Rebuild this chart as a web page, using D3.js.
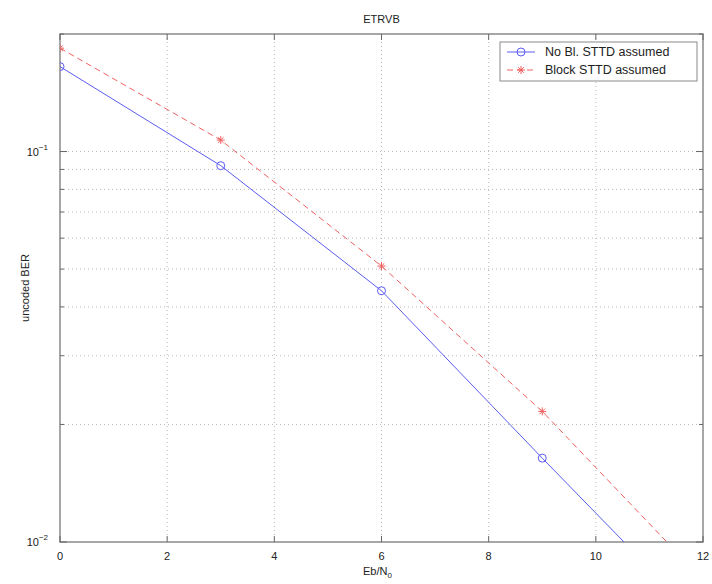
<!DOCTYPE html>
<html>
<head>
<meta charset="utf-8">
<script src="https://cdn.jsdelivr.net/npm/d3@7"></script>
<style>
  body { margin: 0; background: #fff; }
  svg { font-family: "Liberation Sans", Arial, sans-serif; }
</style>
</head>
<body>
<svg id="chart" width="712" height="584"></svg>
<script>
const ebno = [0, 3, 6, 9, 12];
const berNoBlock = [0.165, 0.092, 0.044, 0.0164, 0.0062];
const berBlock = [0.184, 0.107, 0.0509, 0.0216, 0.0080];
const xTicks = [0, 2, 4, 6, 8, 10, 12];
const yMajor = [0.01, 0.1];
const yMinor = [0.02, 0.03, 0.04, 0.05, 0.06, 0.07, 0.08, 0.09, 0.2];
const seriesNames = ["No Bl. STTD assumed", "Block STTD assumed"];

function drawChart() {
  const width = 712;
  const height = 584;
  const margin = { top: 34, right: 9, bottom: 42, left: 60 };

  const svg = d3.select("#chart");

  const x = d3.scaleLinear()
    .domain([0, 12])
    .range([margin.left, width - margin.right]);
  const y = d3.scaleLog()
    .domain([0.01, 0.2])
    .range([height - margin.bottom, margin.top]);

  const axisColor = "#8a8a8a";
  const gridColor = "#b8b8b8";
  const blue = "#5c5cf0";
  const red = "#ee6060";

  // grid
  const grid = svg.append("g").attr("class", "grid");
  grid.selectAll("line.vgrid")
    .data(xTicks.slice(1, -1))
    .join("line")
    .attr("x1", d => x(d)).attr("x2", d => x(d))
    .attr("y1", margin.top).attr("y2", height - margin.bottom)
    .attr("stroke", gridColor)
    .attr("stroke-dasharray", "1,3");
  grid.selectAll("line.hgrid")
    .data(yMajor.concat(yMinor).filter(d => d > 0.01 && d < 0.2))
    .join("line")
    .attr("x1", margin.left).attr("x2", width - margin.right)
    .attr("y1", d => y(d)).attr("y2", d => y(d))
    .attr("stroke", gridColor)
    .attr("stroke-dasharray", "1,3");

  // box
  svg.append("rect")
    .attr("x", margin.left).attr("y", margin.top)
    .attr("width", width - margin.left - margin.right)
    .attr("height", height - margin.top - margin.bottom)
    .attr("fill", "none")
    .attr("stroke", axisColor)
    .attr("stroke-width", 1.5);

  // ticks (inside, like matlab)
  const ticks = svg.append("g").attr("stroke", "#666");
  xTicks.forEach(t => {
    ticks.append("line").attr("x1", x(t)).attr("x2", x(t))
      .attr("y1", height - margin.bottom).attr("y2", height - margin.bottom - 6);
    ticks.append("line").attr("x1", x(t)).attr("x2", x(t))
      .attr("y1", margin.top).attr("y2", margin.top + 6);
  });
  yMajor.forEach(t => {
    ticks.append("line").attr("x1", margin.left).attr("x2", margin.left + 7)
      .attr("y1", y(t)).attr("y2", y(t));
    ticks.append("line").attr("x1", width - margin.right).attr("x2", width - margin.right - 7)
      .attr("y1", y(t)).attr("y2", y(t));
  });
  yMinor.forEach(t => {
    ticks.append("line").attr("x1", margin.left).attr("x2", margin.left + 4)
      .attr("y1", y(t)).attr("y2", y(t));
    ticks.append("line").attr("x1", width - margin.right).attr("x2", width - margin.right - 4)
      .attr("y1", y(t)).attr("y2", y(t));
  });

  // tick labels
  svg.append("g")
    .selectAll("text")
    .data(xTicks)
    .join("text")
    .attr("x", d => x(d))
    .attr("y", height - margin.bottom + 18)
    .attr("text-anchor", "middle")
    .attr("font-size", 11)
    .attr("fill", "#222")
    .text(d => d);

  const yl = svg.append("g")
    .selectAll("text")
    .data(yMajor)
    .join("text")
    .attr("x", margin.left - 12)
    .attr("y", d => y(d) + 4)
    .attr("text-anchor", "end")
    .attr("font-size", 11)
    .attr("fill", "#222");
  yl.append("tspan").text("10");
  yl.append("tspan")
    .attr("dy", -6)
    .attr("font-size", 8)
    .text(d => "\u2212" + Math.round(-Math.log10(d)));

  // titles
  svg.append("text")
    .attr("x", (margin.left + width - margin.right) / 2)
    .attr("y", 23)
    .attr("text-anchor", "middle")
    .attr("font-size", 11)
    .attr("fill", "#222")
    .text("ETRVB");

  const xl = svg.append("text")
    .attr("x", (margin.left + width - margin.right) / 2 - 4)
    .attr("y", height - 9)
    .attr("text-anchor", "middle")
    .attr("font-size", 11)
    .attr("fill", "#222");
  xl.append("tspan").text("Eb/N");
  xl.append("tspan").attr("dy", 3).attr("font-size", 8).text("0");

  svg.append("text")
    .attr("transform", `translate(29, ${(margin.top + height - margin.bottom) / 2}) rotate(-90)`)
    .attr("text-anchor", "middle")
    .attr("font-size", 11)
    .attr("fill", "#222")
    .text("uncoded BER");

  // lines
  svg.append("clipPath").attr("id", "plotclip")
    .append("rect")
    .attr("x", margin.left).attr("y", margin.top)
    .attr("width", width - margin.left - margin.right)
    .attr("height", height - margin.top - margin.bottom);

  const plot = svg.append("g").attr("clip-path", "url(#plotclip)");
  const line = d3.line().x(d => x(d[0])).y(d => y(d[1]));

  const dataNoBlock = ebno.map((e, i) => [e, berNoBlock[i]]);
  const dataBlock = ebno.map((e, i) => [e, berBlock[i]]);

  plot.append("path")
    .datum(dataNoBlock)
    .attr("d", line)
    .attr("fill", "none")
    .attr("stroke", blue)
    .attr("stroke-width", 1);
  plot.append("path")
    .datum(dataBlock)
    .attr("d", line)
    .attr("fill", "none")
    .attr("stroke", red)
    .attr("stroke-width", 1)
    .attr("stroke-dasharray", "6,4");

  plot.selectAll("circle.mk")
    .data(dataNoBlock)
    .join("circle")
    .attr("class", "mk")
    .attr("cx", d => x(d[0])).attr("cy", d => y(d[1]))
    .attr("r", 4)
    .attr("fill", "none")
    .attr("stroke", blue);

  const star = (g, cx, cy, s) => {
    g.append("path")
      .attr("d", `M${cx - s},${cy}H${cx + s}M${cx},${cy - s}V${cy + s}` +
        `M${cx - s * 0.7},${cy - s * 0.7}L${cx + s * 0.7},${cy + s * 0.7}` +
        `M${cx - s * 0.7},${cy + s * 0.7}L${cx + s * 0.7},${cy - s * 0.7}`)
      .attr("stroke", red)
      .attr("fill", "none");
  };
  dataBlock.forEach(d => star(plot, x(d[0]), y(d[1]), 4));

  // legend
  const legend = svg.append("g");
  legend.append("rect")
    .attr("x", 500).attr("y", 42)
    .attr("width", 197).attr("height", 39)
    .attr("fill", "#fff")
    .attr("stroke", axisColor);
  const rows = [52, 70];
  legend.append("line").attr("x1", 507).attr("x2", 535)
    .attr("y1", rows[0]).attr("y2", rows[0]).attr("stroke", blue);
  legend.append("circle").attr("cx", 521).attr("cy", rows[0]).attr("r", 4)
    .attr("fill", "none").attr("stroke", blue);
  legend.append("line").attr("x1", 507).attr("x2", 535)
    .attr("y1", rows[1]).attr("y2", rows[1]).attr("stroke", red)
    .attr("stroke-dasharray", "6,4");
  star(legend, 521, rows[1], 4);
  legend.selectAll("text")
    .data(seriesNames)
    .join("text")
    .attr("x", 545)
    .attr("y", (d, i) => rows[i] + 4)
    .attr("font-size", 12.5)
    .attr("fill", "#222")
    .text(d => d);
}

drawChart();
</script>
</body>
</html>
